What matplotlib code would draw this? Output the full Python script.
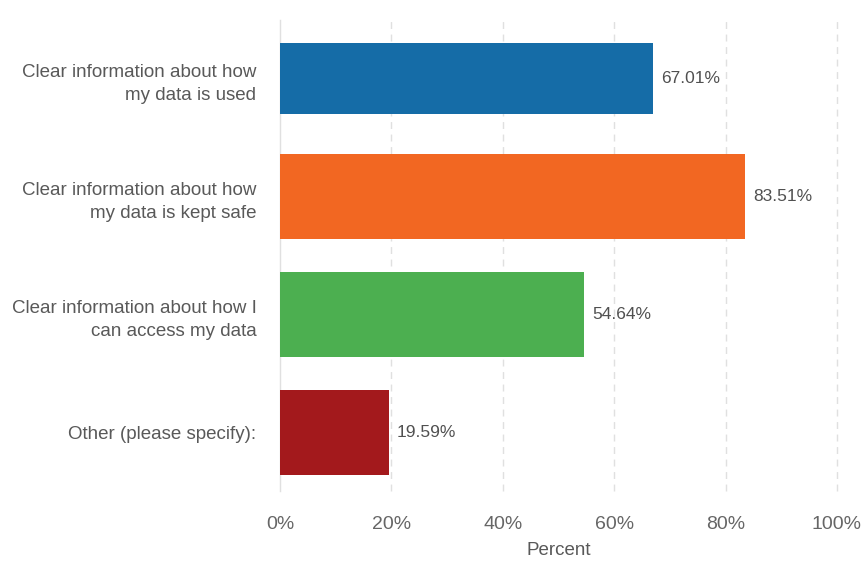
import numpy as np
import matplotlib.pyplot as plt

plt.rcParams['font.family'] = ['Liberation Sans', 'DejaVu Sans']

categories = [
    'Clear information about how\nmy data is used',
    'Clear information about how\nmy data is kept safe',
    'Clear information about how I\ncan access my data',
    'Other (please specify):',
]
percent = [67.01, 83.51, 54.64, 19.59]
colors = ['#156ca7', '#f26722', '#4caf50', '#a3191c']
bar_heights = [0.6, 0.72, 0.72, 0.72]
xticks = [0, 20, 40, 60, 80, 100]

fig = plt.figure(figsize=(8.61, 5.61), dpi=100)
ax = fig.add_axes([0.3252, 0.1239, 0.6469, 0.8413])

y = np.arange(len(categories))
ax.barh(y, percent, height=bar_heights, color=colors, zorder=3)

for yi, v in zip(y, percent):
    ax.text(v + 1.4, yi, f'{v:.2f}%', va='center', ha='left',
            fontsize=12.5, color='#505050', zorder=4)

ax.set_xlim(0, 100)
ax.set_ylim(len(categories) - 0.5, -0.5)

# gridlines: solid at zero, dashed elsewhere
for t in xticks:
    ax.axvline(t, color='#e0e0e0', lw=1.0,
               ls='-' if t == 0 else (0, (5, 4)), zorder=1, clip_on=False)

ax.set_yticks(y, labels=categories)
ax.set_xticks(xticks, labels=[f'{t}%' for t in xticks])
ax.tick_params(axis='y', length=0, pad=17, labelsize=13.5, labelcolor='#595959')
ax.tick_params(axis='x', length=0, pad=18, labelsize=14, labelcolor='#666666')
for lbl in ax.get_yticklabels():
    lbl.set_multialignment('right')
    lbl.set_linespacing(1.5)

ax.set_xlabel('Percent', fontsize=13.5, color='#595959', labelpad=6)

for s in ax.spines.values():
    s.set_visible(False)

fig.savefig('out.png', dpi=100)
